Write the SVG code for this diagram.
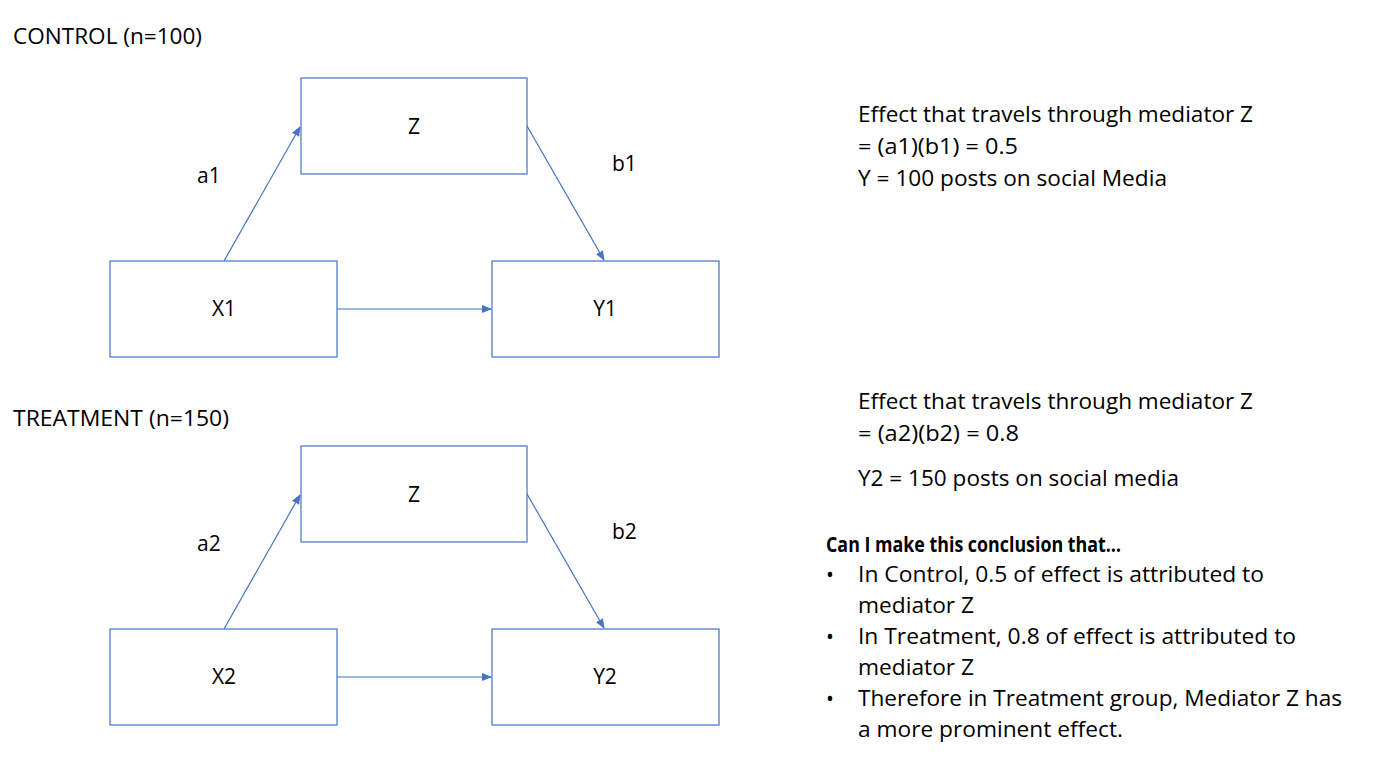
<svg xmlns="http://www.w3.org/2000/svg" width="1373" height="766" viewBox="0 0 1373 766">
<style>
.box{fill:#fff;stroke:#4472C4;stroke-width:1.2}
.c{stroke:#4472C4;stroke-width:1.2;fill:none}
text{font-family:"Open Sans","Liberation Sans",Arial,sans-serif;font-size:21px;fill:#000}
.m{text-anchor:middle}
.b{font-weight:bold}
</style>
<defs>
<marker id="ah" markerWidth="10" markerHeight="8" refX="9" refY="4" orient="auto" markerUnits="userSpaceOnUse">
<path d="M0,0 L10,4 L0,8 Z" fill="#4472C4"/>
</marker>
</defs>
<rect width="1373" height="766" fill="#fff"/>
<text x="13" y="44" textLength="189" lengthAdjust="spacingAndGlyphs">CONTROL (n=100)</text>
<text x="13" y="426" textLength="216" lengthAdjust="spacingAndGlyphs">TREATMENT (n=150)</text>
<g id="connectors">
<line class="c" x1="224" y1="261" x2="300" y2="127" marker-end="url(#ah)"/>
<line class="c" x1="527" y1="126" x2="604" y2="260" marker-end="url(#ah)"/>
<line class="c" x1="337" y1="309" x2="491" y2="309" marker-end="url(#ah)"/>
<line class="c" x1="224" y1="629" x2="300" y2="495" marker-end="url(#ah)"/>
<line class="c" x1="527" y1="494" x2="604" y2="628" marker-end="url(#ah)"/>
<line class="c" x1="337" y1="677" x2="491" y2="677" marker-end="url(#ah)"/>
</g>
<g id="Z1"><rect class="box" x="301" y="78" width="226" height="96"/><text class="m" x="414" y="134">Z</text></g>
<g id="X1"><rect class="box" x="110" y="261" width="227" height="96"/><text class="m" x="224" y="316">X1</text></g>
<g id="Y1"><rect class="box" x="492" y="261" width="227" height="96"/><text class="m" x="605" y="316">Y1</text></g>
<g id="Z2"><rect class="box" x="301" y="446" width="226" height="96"/><text class="m" x="414" y="502">Z</text></g>
<g id="X2"><rect class="box" x="110" y="629" width="227" height="96"/><text class="m" x="224" y="684">X2</text></g>
<g id="Y2"><rect class="box" x="492" y="629" width="227" height="96"/><text class="m" x="605" y="684">Y2</text></g>
<g id="labels">
<text x="197" y="183">a1</text>
<text x="612" y="171">b1</text>
<text x="197" y="551">a2</text>
<text x="612" y="539">b2</text>
</g>
<g id="notes">
<text x="858" y="122" textLength="395" lengthAdjust="spacingAndGlyphs">Effect that travels through mediator Z</text>
<text x="858" y="154" textLength="160" lengthAdjust="spacingAndGlyphs">= (a1)(b1) = 0.5</text>
<text x="858" y="186" textLength="309" lengthAdjust="spacingAndGlyphs">Y = 100 posts on social Media</text>
<text x="858" y="409" textLength="395" lengthAdjust="spacingAndGlyphs">Effect that travels through mediator Z</text>
<text x="858" y="441" textLength="161" lengthAdjust="spacingAndGlyphs">= (a2)(b2) = 0.8</text>
<text x="858" y="486" textLength="321" lengthAdjust="spacingAndGlyphs">Y2 = 150 posts on social media</text>
<text class="b" x="826" y="552" textLength="295" lengthAdjust="spacingAndGlyphs">Can I make this conclusion that…</text>
<text x="826" y="582">•</text>
<text x="858" y="582" textLength="406" lengthAdjust="spacingAndGlyphs">In Control, 0.5 of effect is attributed to</text>
<text x="858" y="613" textLength="116" lengthAdjust="spacingAndGlyphs">mediator Z</text>
<text x="826" y="644">•</text>
<text x="858" y="644" textLength="438" lengthAdjust="spacingAndGlyphs">In Treatment, 0.8 of effect is attributed to</text>
<text x="858" y="675" textLength="116" lengthAdjust="spacingAndGlyphs">mediator Z</text>
<text x="826" y="706">•</text>
<text x="858" y="706" textLength="484" lengthAdjust="spacingAndGlyphs">Therefore in Treatment group, Mediator Z has</text>
<text x="858" y="737" textLength="265" lengthAdjust="spacingAndGlyphs">a more prominent effect.</text>
</g>
</svg>
